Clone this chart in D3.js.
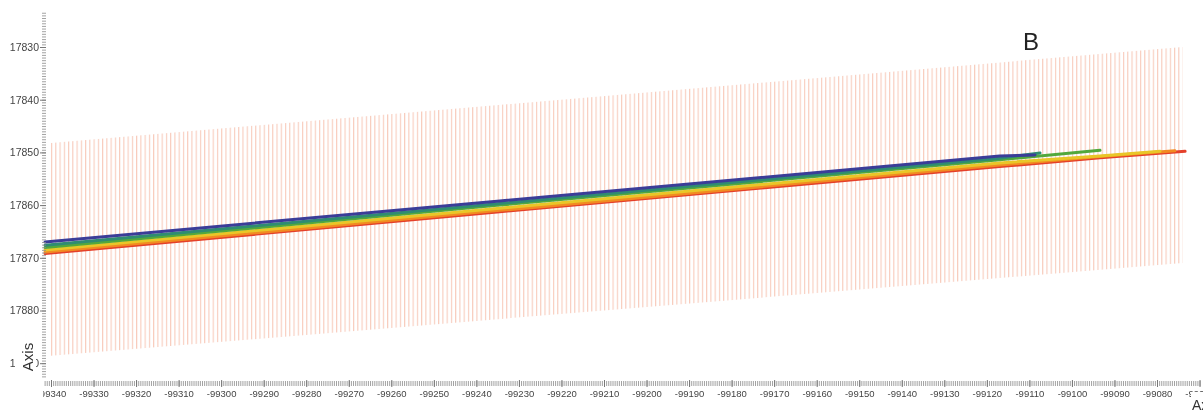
<!DOCTYPE html>
<html>
<head>
<meta charset="utf-8">
<script src="https://cdn.jsdelivr.net/npm/d3@7"></script>
<style>
  html, body { margin: 0; padding: 0; background: #fff; }
  svg { display: block; filter: blur(0.35px); }
</style>
</head>
<body>
<div id="chart"></div>
<script>
// tick values
const xTickValues = [-99340, -99330, -99320, -99310, -99300, -99290, -99280, -99270, -99260,
  -99250, -99240, -99230, -99220, -99210, -99200, -99190, -99180, -99170, -99160, -99150,
  -99140, -99130, -99120, -99110, -99100, -99090, -99080, -99070];
const yTickValues = [17830, 17840, 17850, 17860, 17870, 17880, 17890];

// hatched band corners (x, y)
const bandTop = [[-99340, 17848.2], [-99074, 17830.0]];
const bandBottom = [[-99340, 17888.6], [-99074, 17871.0]];

// series, top to bottom
const blueLine = [[-99341.4, 17867.0], [-99234.5, 17859.2], [-99117.0, 17850.7], [-99108.7, 17850.5]];
const tealLine = [[-99341.4, 17867.6], [-99234.5, 17859.7], [-99117.0, 17851.1], [-99107.5, 17850.1]];
const greenLine = [[-99341.4, 17868.05], [-99234.5, 17860.0], [-99117.0, 17851.4], [-99093.4, 17849.6]];
const yellowLine = [[-99341.4, 17868.5], [-99234.5, 17860.6], [-99117.0, 17852.0], [-99093.4, 17850.7], [-99079.3, 17849.8]];
const orangeLine = [[-99341.4, 17868.9], [-99234.5, 17861.0], [-99117.0, 17852.4], [-99093.4, 17850.8], [-99075.8, 17849.7]];
const redLine = [[-99341.4, 17869.2], [-99234.5, 17861.25], [-99117.0, 17852.7], [-99093.4, 17851.0], [-99073.4, 17849.8]];

const series = [
  { data: redLine, color: "#e4402a" },
  { data: orangeLine, color: "#f28a22" },
  { data: yellowLine, color: "#e9c628" },
  { data: greenLine, color: "#52a83c" },
  { data: tealLine, color: "#2f8c72" },
  { data: blueLine, color: "#3b3d98" }
];

const W = 1203, H = 412;

const x = d3.scaleLinear().domain([-99340, -99080]).range([51, 1157]);
const y = d3.scaleLinear().domain([17830, 17880]).range([47, 310.5]);

// same mapping, spread over the whole axis length (for minor ticks)
const xFull = x.copy().domain([x.invert(43), x.invert(1201)]).range([43, 1201]);
const yFull = y.copy().domain([y.invert(12), y.invert(379)]).range([12, 379]);

const svg = d3.select("#chart").append("svg")
  .attr("width", W).attr("height", H)
  .style("font-family", "Liberation Sans, Arial, sans-serif");

// hatch pattern, one line per x unit
const step = x(-99339) - x(-99340);
const defs = svg.append("defs");
const pat = defs.append("pattern")
  .attr("id", "hatch")
  .attr("patternUnits", "userSpaceOnUse")
  .attr("x", x(-99340))
  .attr("y", 0)
  .attr("width", step)
  .attr("height", 20);
pat.append("line")
  .attr("x1", 0.6).attr("x2", 0.6)
  .attr("y1", 0).attr("y2", 20)
  .attr("stroke", "#f4b09a")
  .attr("stroke-width", 1)
  .attr("stroke-opacity", 0.75);

const bandPts = bandTop.concat(bandBottom.slice().reverse());
svg.append("path")
  .attr("d", d3.line().x(d => x(d[0])).y(d => y(d[1]))(bandPts) + "Z")
  .attr("fill", "url(#hatch)");

// series lines
const line = d3.line().x(d => x(d[0])).y(d => y(d[1]));
svg.selectAll(".series")
  .data(series)
  .enter().append("path")
  .attr("class", "series")
  .attr("d", d => line(d.data))
  .attr("fill", "none")
  .attr("stroke", d => d.color)
  .attr("stroke-width", 3)
  .attr("stroke-linecap", "round");

// x axis: minor ticks then major ticks with labels
const xMinor = d3.axisBottom(xFull)
  .ticks(560)
  .tickSize(5)
  .tickFormat("");
const gxMinor = svg.append("g")
  .attr("transform", "translate(0,381)")
  .call(xMinor);
gxMinor.select(".domain").remove();
gxMinor.selectAll("line").attr("stroke", "#8a8a8a").attr("stroke-width", 0.8);

const xAxis = d3.axisBottom(x)
  .tickValues(xTickValues)
  .tickSize(7)
  .tickPadding(3)
  .tickFormat(d => String(d));
const gx = svg.append("g")
  .attr("transform", "translate(0,380)")
  .call(xAxis);
gx.select(".domain").remove();
gx.selectAll("line").attr("stroke", "#777");
gx.selectAll("text").attr("fill", "#444").style("font-size", "9.5px");

// y axis
const yMinor = d3.axisLeft(yFull)
  .ticks(140)
  .tickSize(4)
  .tickFormat("");
const gyMinor = svg.append("g")
  .attr("transform", "translate(46,0)")
  .call(yMinor);
gyMinor.select(".domain").remove();
gyMinor.selectAll("line").attr("stroke", "#8a8a8a").attr("stroke-width", 0.8);

const yAxis = d3.axisLeft(y)
  .tickValues(yTickValues)
  .tickSize(6)
  .tickPadding(1)
  .tickFormat(d => String(d));
const gy = svg.append("g")
  .attr("transform", "translate(46,0)")
  .call(yAxis);
gy.select(".domain").remove();
gy.selectAll("line").attr("stroke", "#777");
gy.selectAll("text").attr("fill", "#444").style("font-size", "10.5px");

// the y panel hides the start of the first x label
svg.append("rect").attr("x", 0).attr("y", 388).attr("width", 43).attr("height", 24).attr("fill", "#fff");

// y axis title over the last label
const yt = svg.append("g").attr("transform", "translate(33,357) rotate(-90)");
yt.append("rect").attr("x", -18).attr("y", -18).attr("width", 36).attr("height", 21).attr("fill", "#fff");
yt.append("text")
  .attr("text-anchor", "middle")
  .attr("fill", "#333")
  .style("font-size", "15px")
  .text("Axis");

// x axis title, cut by the right edge
svg.append("rect").attr("x", 1191).attr("y", 392).attr("width", 12).attr("height", 20).attr("fill", "#fff");
svg.append("text")
  .attr("x", 1192).attr("y", 410)
  .attr("fill", "#333")
  .style("font-size", "14px")
  .text("Axis");

// panel letter
svg.append("text")
  .attr("x", 1031).attr("y", 50)
  .attr("text-anchor", "middle")
  .attr("fill", "#222")
  .style("font-size", "24px")
  .text("B");
</script>
</body>
</html>
